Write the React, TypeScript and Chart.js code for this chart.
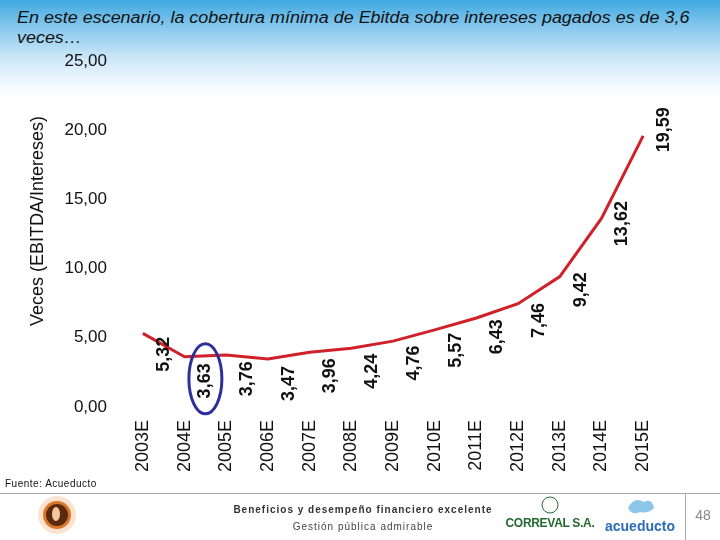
import React, { useEffect, useRef } from "react";
import { Chart, registerables } from "chart.js";

Chart.register(...registerables);

const categories = ["2003E", "2004E", "2005E", "2006E", "2007E", "2008E", "2009E", "2010E", "2011E", "2012E", "2013E", "2014E", "2015E"];
const coverage = [5.32, 3.63, 3.76, 3.47, 3.96, 4.24, 4.76, 5.57, 6.43, 7.46, 9.42, 13.62, 19.59];
const highlightIndex = 1;
const yMin = 0;
const yMax = 25;
const yStep = 5;
const yAxisTitle = "Veces (EBITDA/Intereses)";
const titleLine1 = "En este escenario, la cobertura mínima de Ebitda sobre intereses pagados es de 3,6";
const titleLine2 = "veces…";

const FONT = '"Liberation Sans", Arial, sans-serif';
const fmt = (v: number) => v.toFixed(2).replace(".", ",");

const labelsPlugin = {
  id: "vLabels",
  afterDatasetsDraw(chart: any) {
    const ctx = chart.ctx;
    const meta = chart.getDatasetMeta(0);
    const xs = chart.scales.x;
    const half = (xs.getPixelForValue(1) - xs.getPixelForValue(0)) / 2;
    ctx.save();
    ctx.font = `bold 18px ${FONT}`;
    ctx.fillStyle = "#111";
    ctx.textAlign = "center";
    ctx.textBaseline = "middle";
    meta.data.forEach((pt: any, i: number) => {
      const v = coverage[i];
      const cx = pt.x + half;
      const cy = pt.y + 31 - 1.9 * v;
      ctx.save();
      ctx.translate(cx, cy);
      ctx.rotate(-Math.PI / 2);
      ctx.fillText(fmt(v), 0, 0);
      ctx.restore();
      if (i === highlightIndex) {
        ctx.save();
        ctx.strokeStyle = "#2c2f9c";
        ctx.lineWidth = 3;
        ctx.beginPath();
        ctx.ellipse(cx, cy - 2, 16.5, 35, 0, 0, Math.PI * 2);
        ctx.stroke();
        ctx.restore();
      }
    });
    // y axis title
    ctx.save();
    ctx.font = `18px ${FONT}`;
    ctx.fillStyle = "#111";
    ctx.translate(38, 221);
    ctx.rotate(-Math.PI / 2);
    ctx.textAlign = "center";
    ctx.textBaseline = "middle";
    ctx.fillText(yAxisTitle, 0, 0);
    ctx.restore();
    ctx.restore();
  },
};

function ChartCanvas() {
  const ref = useRef<HTMLCanvasElement | null>(null);
  useEffect(() => {
    if (!ref.current) return;
    const chart = new Chart(ref.current, {
      type: "line",
      data: {
        labels: categories,
        datasets: [
          {
            data: coverage,
            borderColor: "#d0202a",
            borderWidth: 3,
            pointRadius: 0,
            tension: 0,
            fill: false,
          },
        ],
      },
      options: {
        responsive: false,
        animation: false,
        layout: { padding: { top: 61, bottom: 53, right: 56, left: 0 } },
        plugins: { legend: { display: false }, tooltip: { enabled: false } },
        scales: {
          x: {
            type: "category",
            offset: true,
            grid: { display: false, drawTicks: false },
            border: { display: false },
            ticks: {
              minRotation: 90,
              maxRotation: 90,
              autoSkip: false,
              padding: 13,
              color: "#111",
              font: { size: 18, family: FONT },
            },
            afterFit: (s: any) => {
              s.height = 80;
            },
          },
          y: {
            min: yMin,
            max: yMax,
            grid: { display: false, drawTicks: false },
            border: { display: false },
            ticks: {
              stepSize: yStep,
              padding: 15,
              color: "#111",
              font: { size: 17, family: FONT },
              callback: (v: any) => fmt(Number(v)),
            },
            afterFit: (s: any) => {
              s.width = 122;
            },
          },
        },
      },
      plugins: [labelsPlugin],
    });
    return () => chart.destroy();
  }, []);
  return <canvas ref={ref} width={720} height={540} style={{ position: "absolute", left: 0, top: 0 }} />;
}

export default function App() {
  return (
    <div style={{ position: "absolute", left: 0, top: 0, width: 720, height: 540, overflow: "hidden", background: "#fff", fontFamily: FONT }}>
      <div
        style={{
          position: "absolute",
          left: 0,
          top: 0,
          width: 720,
          height: 100,
          background: "linear-gradient(to bottom, #3fa9e0 0px, #8fcbef 30px, #cfe9f8 60px, #f2f9fe 85px, #ffffff 100px)",
        }}
      />
      <div
        style={{
          position: "absolute",
          left: 17,
          top: 8,
          fontSize: 16,
          fontStyle: "italic",
          lineHeight: "20px",
          color: "#111",
          whiteSpace: "nowrap",
          transform: "scaleX(1.12)",
          transformOrigin: "left top",
        }}
      >
        {titleLine1}
        <br />
        {titleLine2}
      </div>
      <ChartCanvas />
      <div style={{ position: "absolute", left: 5, top: 478, fontSize: 10, color: "#111", letterSpacing: 0.5 }}>Fuente: Acueducto</div>
      <div style={{ position: "absolute", left: 0, top: 493, width: 720, height: 1, background: "#aaa" }} />
      <div style={{ position: "absolute", left: 685, top: 493, width: 1, height: 47, background: "#aaa" }} />
      <svg width={720} height={47} style={{ position: "absolute", left: 0, top: 494 }}>
        <circle cx={57} cy={21} r={19} fill="#fbe3cf" />
        <circle cx={57} cy={21} r={14} fill="#d9782a" />
        <circle cx={57} cy={21} r={11} fill="#5a2a10" />
        <ellipse cx={56} cy={20} rx={4} ry={7} fill="#f6c79a" />
        <circle cx={550} cy={11} r={8} fill="none" stroke="#2a6a35" strokeWidth={1} />
        <path d="M628,14 q6,-12 16,-6 q8,-4 10,6 q-6,6 -14,4 q-8,4 -12,-4z" fill="#8cc7ea" />
      </svg>
      <div style={{ position: "absolute", left: 0, width: 726, top: 504, textAlign: "center", fontSize: 10, fontWeight: "bold", letterSpacing: 1, color: "#333" }}>
        Beneficios y desempeño financiero excelente
      </div>
      <div style={{ position: "absolute", left: 0, width: 726, top: 521, textAlign: "center", fontSize: 10, letterSpacing: 1, color: "#444" }}>
        Gestión pública admirable
      </div>
      <div style={{ position: "absolute", left: 505, width: 90, top: 516, textAlign: "center", fontSize: 12, fontWeight: "bold", color: "#22682f", whiteSpace: "nowrap", letterSpacing: -0.3 }}>
        CORREVAL S.A.
      </div>
      <div style={{ position: "absolute", left: 605, width: 70, top: 518, textAlign: "center", fontSize: 14, fontWeight: "bold", color: "#2b6db8" }}>
        acueducto
      </div>
      <div style={{ position: "absolute", left: 686, width: 34, top: 507, textAlign: "center", fontSize: 14, color: "#888" }}>48</div>
    </div>
  );
}
